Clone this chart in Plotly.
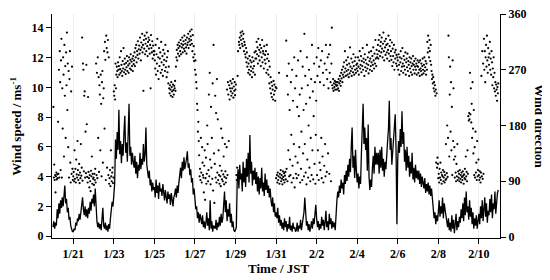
import pandas as pd
import plotly.graph_objects as go

# 風速 (m/s)，1時間値，1/20 00:00 から1日ずつ
speed_by_day = [
    [0.6, 1.0, 0.5, 0.9, 0.7, 1.8, 1.2, 2.2, 1.5, 2.4, 1.9, 2.6, 2.0, 2.8, 3.4, 2.2, 2.5, 1.6, 1.9, 1.1, 1.3, 0.7, 0.5, 0.3],
    [0.3, 0.5, 0.4, 0.9, 0.7, 1.2, 1.0, 1.5, 1.1, 1.7, 2.0, 2.6, 1.8, 1.4, 2.0, 1.3, 1.8, 1.2, 1.9, 1.5, 2.3, 1.7, 2.5, 2.2],
    [2.8, 2.0, 3.2, 1.6, 1.0, 0.6, 0.9, 0.5, 0.8, 0.4, 1.0, 1.9, 0.7, 0.5, 0.9, 0.4, 0.7, 0.3, 0.8, 0.5, 1.2, 1.8, 2.3, 2.0],
    [2.6, 3.5, 6.5, 5.2, 7.0, 5.8, 8.5, 5.5, 6.4, 4.9, 6.2, 5.4, 7.0, 8.1, 5.6, 6.3, 5.0, 6.8, 8.9, 5.4, 6.0, 4.8, 5.6, 5.0],
    [4.6, 5.4, 4.2, 5.0, 3.9, 4.8, 4.4, 5.6, 4.5, 5.2, 4.8, 6.2, 5.0, 5.5, 7.3, 4.8, 4.2, 3.9, 4.4, 3.4, 3.8, 3.0, 3.6, 3.1],
    [3.3, 2.6, 3.8, 2.9, 3.4, 2.5, 3.6, 3.0, 3.2, 2.7, 3.5, 2.8, 2.4, 3.1, 2.6, 2.2, 3.0, 2.5, 2.8, 2.1, 2.9, 2.4, 2.0, 2.6],
    [2.8, 3.2, 2.6, 3.4, 2.9, 3.6, 4.0, 4.6, 3.9, 5.0, 4.4, 5.3, 4.5, 4.8, 5.2, 5.7, 4.6, 4.9, 4.1, 4.5, 3.6, 3.9, 2.8, 3.2],
    [2.4, 1.8, 2.0, 1.2, 1.6, 0.9, 1.5, 1.1, 0.8, 1.4, 0.6, 1.0, 0.5, 0.9, 1.6, 0.7, 1.2, 0.4, 2.4, 0.5, 1.0, 0.3, 0.7, 0.6],
    [0.5, 1.1, 0.4, 0.9, 0.6, 1.3, 0.7, 1.5, 0.9, 1.2, 2.0, 3.0, 1.6, 2.4, 1.0, 1.8, 1.3, 2.2, 0.9, 1.5, 0.6, 1.0, 0.4, 0.3],
    [0.4, 0.6, 3.6, 4.5, 3.2, 4.8, 3.8, 4.2, 3.0, 5.0, 3.6, 4.6, 3.3, 5.2, 4.0, 5.6, 3.6, 6.8, 4.2, 5.0, 3.4, 4.4, 3.8, 4.6],
    [3.5, 4.3, 3.0, 4.0, 2.8, 3.9, 3.2, 4.6, 3.0, 3.6, 2.7, 4.2, 3.1, 3.8, 2.9, 3.4, 2.6, 3.2, 2.4, 2.0, 2.6, 1.6, 2.2, 1.3],
    [1.6, 1.2, 1.9, 0.9, 1.4, 0.7, 1.1, 0.5, 0.9, 0.4, 1.2, 0.6, 1.0, 0.3, 0.8, 0.5, 1.3, 0.4, 0.7, 0.3, 0.9, 0.5, 0.6, 0.3],
    [0.4, 0.9, 0.3, 0.7, 0.5, 1.1, 0.4, 0.8, 1.2, 1.6, 2.6, 1.3, 0.7, 1.0, 0.4, 0.8, 0.3, 0.6, 1.0, 0.5, 1.2, 0.8, 1.6, 2.1],
    [1.2, 0.6, 1.0, 0.4, 0.8, 0.5, 1.3, 0.7, 1.1, 0.4, 0.9, 1.7, 0.6, 1.0, 0.4, 1.5, 0.8, 1.2, 0.5, 1.0, 0.6, 0.9, 0.4, 1.8],
    [2.4, 3.0, 2.6, 3.4, 2.9, 3.8, 3.2, 3.6, 2.8, 4.1, 3.5, 4.4, 3.7, 4.8, 4.0, 5.2, 4.3, 6.0, 7.3, 4.6, 5.4, 3.9, 5.8, 4.4],
    [3.6, 4.2, 3.2, 4.0, 3.5, 5.6, 7.0, 8.9, 6.2, 7.3, 5.8, 6.6, 4.4, 7.5, 4.0, 3.1, 3.8, 3.3, 4.6, 5.4, 4.2, 6.0, 4.8, 5.6],
    [4.8, 5.6, 4.2, 5.8, 4.6, 6.0, 4.4, 5.2, 4.0, 5.0, 4.5, 5.8, 6.4, 7.2, 9.1, 5.8, 6.6, 4.8, 5.6, 6.2, 7.5, 8.2, 5.8, 0.8],
    [5.2, 6.4, 5.6, 7.2, 6.0, 8.4, 6.2, 7.0, 5.0, 5.8, 4.4, 6.0, 4.6, 5.4, 4.0, 5.0, 4.2, 5.6, 3.8, 4.6, 3.6, 4.8, 3.9, 4.4],
    [3.8, 4.4, 3.5, 4.2, 3.3, 4.0, 3.6, 3.2, 3.9, 2.9, 3.5, 3.0, 3.6, 2.8, 3.4, 2.7, 3.2, 2.6, 1.8, 1.2, 1.6, 0.8, 1.4, 1.0],
    [1.6, 2.4, 1.3, 2.0, 1.5, 2.6, 1.2, 2.2, 1.8, 1.4, 1.0, 0.6, 1.2, 0.4, 0.9, 0.3, 1.4, 0.5, 1.1, 0.2, 0.8, 1.5, 0.4, 1.0],
    [0.6, 1.3, 0.9, 1.8, 1.2, 2.2, 1.0, 2.6, 1.4, 3.0, 1.6, 2.0, 1.1, 2.4, 1.3, 1.9, 0.8, 1.6, 0.5, 1.2, 0.7, 1.4, 0.5, 1.0],
    [1.5, 0.8, 2.0, 1.2, 2.4, 1.0, 1.8, 2.6, 1.3, 2.2, 0.9, 1.7, 1.4, 2.5, 1.6, 2.8, 1.2, 2.2, 1.8, 3.0, 1.5, 2.6, 2.9, 3.1],
]

# 風向 (deg)，30分値
direction_by_day = [
    [None, 210, 96, 117, 92, 100, 72, 98, 104, 93, 101, 95, 186, 102, 270, 96, 300, 250, 108, 285, 320, 96, 240, 175,
     290, 262, 130, 310, 228, 276, 160, 298, 245, 330, 205, 280, 145, 268, 96, 255, 300, 120, 88, 235, 102, 275, 110, 92],
    [98, 105, 90, 140, 94, 110, 88, 125, 101, 96, 155, 108, 92, 100, 118, 87, 104, 95, 150, 99, 112, 322, 91, 280,
     270, 106, 228, 235, 96, 170, 103, 278, 182, 97, 88, 226, 105, 95, 80, 100, 90, 74, 107, 98, 130, 86, 102, 94],
    [96, 84, 102, 92, 110, 88, 280, 100, 265, 95, 290, 160, 258, 105, 245, 230, 140, 262, 215, 98, 250, 268, 120, 224,
     240, 300, 175, 315, 286, 92, 325, 305, 112, 298, 318, 100, 290, 86, 95, 108, 82, 140, 98, 90, 104, 112, 87, 96],
    [235, 228, 245, 222, 280, 240, 262, 275, 268, 258, 282, 270, 276, 262, 290, 271, 265, 300, 278, 268, 260, 284, 272, 305,
     266, 279, 288, 270, 263, 281, 274, 292, 268, 284, 277, 265, 290, 280, 272, 286, 295, 270, 283, 276, 288, 268, 292, 279],
    [285, 298, 276, 305, 290, 310, 282, 300, 294, 316, 288, 303, 309, 296, 322, 302, 285, 314, 306, 328, 298, 310, 236, 318,
     304, 325, 295, 312, 320, 300, 330, 308, 292, 315, 322, 304, 318, 296, 310, 240, 326, 305, 298, 316, 288, 309, 300, 294],
    [300, 285, 272, 310, 262, 295, 280, 320, 268, 290, 255, 305, 276, 288, 298, 265, 315, 282, 270, 292, 260, 302, 278, 286,
     296, 268, 310, 274, 284, 258, 290, 266, 300, 248, 275, 240, 232, 245, 238, 228, 250, 242, 235, 226, 246, 237, 230, 244],
    [240, 252, 236, 275, 290, 302, 285, 310, 296, 305, 314, 292, 308, 300, 318, 295, 312, 306, 322, 298, 310, 316, 304, 325,
     300, 312, 318, 306, 296, 322, 310, 314, 328, 305, 320, 316, 332, 310, 324, 318, 335, 312, 300, 326, 290, 308, 284, 295],
    [270, 285, 262, 250, 240, 215, 205, 170, 186, 155, 132, 98, 110, 92, 160, 104, 88, 145, 120, 100, 96, 72, 115, 140,
     60, 95, 128, 86, 102, 180, 150, 90, 108, 230, 98, 265, 125, 85, 210, 112, 160, 94, 248, 75, 310, 135, 55, 118],
    [228, 96, 200, 88, 255, 104, 190, 92, 140, 100, 86, 115, 98, 82, 175, 107, 93, 160, 90, 101, 130, 85, 97, 150,
     106, 88, 95, 145, 238, 100, 250, 230, 155, 245, 222, 240, 252, 235, 228, 248, 240, 232, 255, 225, 243, 236, 250, 229],
    [238, 246, 100, 92, 112, 260, 300, 96, 315, 310, 322, 305, 330, 318, 325, 312, 332, 308, 320, 328, 300, 315, 310, 295,
     290, 305, 282, 298, 275, 288, 265, 280, 270, 292, 262, 285, 275, 268, 282, 258, 290, 272, 266, 284, 276, 298, 262, 288],
    [300, 288, 315, 295, 306, 280, 320, 292, 302, 285, 310, 298, 276, 305, 290, 318, 282, 300, 296, 272, 308, 286, 294, 280,
     300, 265, 310, 288, 270, 295, 262, 284, 248, 275, 240, 258, 232, 250, 226, 244, 238, 222, 252, 230, 246, 236, 220, 242],
    [95, 240, 100, 88, 104, 92, 98, 265, 86, 102, 96, 108, 90, 100, 94, 85, 106, 97, 92, 103, 88, 99, 105, 93,
     317, 110, 260, 90, 230, 140, 280, 98, 205, 125, 100, 250, 165, 88, 270, 115, 220, 95, 150, 290, 80, 240, 130, 102],
    [260, 95, 210, 120, 285, 100, 195, 145, 230, 88, 300, 110, 170, 240, 92, 275, 135, 205, 98, 328, 150, 260, 104, 215,
     85, 290, 125, 245, 96, 180, 270, 112, 225, 90, 160, 255, 100, 310, 140, 235, 93, 195, 280, 118, 250, 86, 165, 220],
    [290, 100, 260, 140, 305, 92, 275, 120, 250, 108, 285, 160, 95, 300, 130, 265, 88, 245, 115, 280, 150, 98, 310, 270,
     105, 255, 290, 135, 240, 295, 102, 265, 310, 250, 90, 280, 338, 245, 240, 255, 236, 248, 242, 252, 238, 246, 250, 244],
    [238, 245, 250, 240, 255, 236, 248, 260, 252, 244, 265, 256, 270, 250, 262, 275, 258, 282, 266, 300, 272, 260, 285, 268,
     278, 262, 290, 270, 258, 280, 264, 306, 275, 268, 288, 260, 272, 282, 266, 295, 276, 262, 284, 270, 290, 265, 278, 272],
    [280, 268, 290, 275, 262, 285, 300, 272, 278, 292, 266, 284, 276, 305, 270, 288, 282, 260, 295, 274, 286, 268, 280, 310,
     272, 290, 278, 264, 298, 284, 270, 288, 276, 300, 282, 268, 292, 278, 306, 285, 272, 296, 280, 318, 288, 276, 302, 290],
    [295, 310, 288, 318, 300, 326, 292, 308, 315, 298, 322, 304, 290, 312, 330, 300, 285, 316, 306, 294, 320, 310, 298, 288,
     312, 302, 325, 296, 284, 308, 318, 292, 300, 286, 314, 276, 304, 292, 282, 310, 270, 298, 288, 302, 280, 294, 276, 290],
    [285, 270, 295, 278, 262, 290, 282, 300, 268, 288, 275, 305, 280, 265, 292, 276, 286, 270, 298, 262, 282, 288, 274, 296,
     268, 284, 278, 260, 290, 272, 282, 266, 288, 276, 262, 280, 292, 270, 278, 284, 264, 275, 288, 270, 280, 262, 276, 285],
    [275, 265, 282, 270, 260, 285, 272, 268, 280, 262, 276, 288, 270, 264, 278, 290, 268, 274, 284, 262, 280, 270, 315, 298,
     325, 305, 290, 318, 300, 284, 310, 278, 268, 255, 262, 248, 258, 240, 250, 235, 245, 228, 238, 120, 232, 112, 128, 118],
    [95, 102, 88, 110, 96, 120, 92, 104, 86, 100, 98, 108, 90, 96, 105, 88, 100, 92, 150, 94, 103, 180, 97, 160,
     325, 290, 130, 230, 275, 170, 250, 140, 210, 100, 285, 155, 240, 125, 145, 96, 130, 104, 90, 118, 98, 150, 92, 106],
    [96, 102, 90, 108, 94, 100, 88, 104, 97, 92, 106, 99, 86, 101, 95, 110, 93, 130, 98, 105, 90, 140, 102, 195,
     188, 200, 190, 265, 198, 240, 185, 215, 160, 250, 175, 135, 205, 100, 145, 96, 170, 104, 120, 92, 155, 98, 108, 125],
    [100, 92, 106, 96, 88, 104, 260, 98, 300, 94, 280, 102, 320, 270, 300, 250, 290, 310, 275, 325, 285, 265, 305, 290,
     278, 296, 315, 270, 288, 262, 300, 282, 245, 272, 258, 290, 240, 265, 235, 250, 228, 246, 238, 220, 242, 232, 248, None],
]

tick_dates = ["2019-01-21", "2019-01-23", "2019-01-25", "2019-01-27", "2019-01-29", "2019-01-31",
              "2019-02-02", "2019-02-04", "2019-02-06", "2019-02-08", "2019-02-10"]
tick_labels = ["1/21", "1/23", "1/25", "1/27", "1/29", "1/31", "2/2", "2/4", "2/6", "2/8", "2/10"]

START = pd.Timestamp("2019-01-20")


def flatten(by_day):
    """各日のリストを時刻付きの系列に展開"""
    xs, ys = [], []
    for d, vals in enumerate(by_day):
        step = pd.Timedelta(days=1) / len(vals)
        for i, v in enumerate(vals):
            xs.append(START + pd.Timedelta(days=d) + step * i)
            ys.append(v)
    return xs, ys


sx, sy = flatten(speed_by_day)
dx, dy = flatten(direction_by_day)

FONT = "Liberation Serif"
tickfont = dict(family=FONT, size=12, color="black", weight="bold")

fig = go.Figure()
fig.add_trace(go.Scatter(
    x=dx, y=dy, yaxis="y2", mode="markers",
    marker=dict(color="black", size=2.2),
    name="Wind direction",
))
fig.add_trace(go.Scatter(
    x=sx, y=sy, mode="lines",
    line=dict(color="black", width=1.3),
    name="Wind speed",
))

# ページの body 余白(8px)分だけ図を小さくしておく
fig.update_layout(
    width=542, height=273,
    margin=dict(l=44, r=50, t=6, b=43),
    paper_bgcolor="white", plot_bgcolor="white",
    showlegend=False,
    xaxis=dict(
        range=["2019-01-19 22:50", "2019-02-11 01:00"],
        tickvals=tick_dates, ticktext=tick_labels,
        ticks="outside", ticklen=5, tickcolor="black",
        showline=True, linecolor="black", linewidth=1,
        showgrid=True, gridcolor="#ececec", gridwidth=1,
        zeroline=False, tickfont=tickfont, automargin=False,
    ),
    yaxis=dict(
        range=[-0.13, 14.94],
        tickvals=[0, 2, 4, 6, 8, 10, 12, 14],
        ticks="outside", ticklen=5, tickcolor="black",
        showline=True, linecolor="black", linewidth=1,
        showgrid=False, zeroline=False, tickfont=tickfont, automargin=False,
    ),
    yaxis2=dict(
        range=[-1.6, 360], overlaying="y", side="right",
        tickvals=[0, 90, 180, 270, 360],
        ticks="outside", ticklen=5, tickcolor="black",
        showline=True, linecolor="black", linewidth=1,
        showgrid=False, zeroline=False, tickfont=tickfont, automargin=False,
        ticklabeloverflow="allow",
    ),
)

title_font = dict(family=FONT, size=13, color="black", weight="bold")
fig.add_annotation(text="Wind speed / ms<sup>-1</sup>", xref="paper", yref="paper",
                   x=-0.081, y=0.5, xanchor="center", yanchor="middle",
                   textangle=-90, showarrow=False, font=title_font)
fig.add_annotation(text="Wind direction", xref="paper", yref="paper",
                   x=1.089, y=0.5, xanchor="center", yanchor="middle",
                   textangle=90, showarrow=False, font=title_font)
fig.add_annotation(text="Time / JST", xref="paper", yref="paper",
                   x=0.505, y=-0.136, xanchor="center", yanchor="middle",
                   showarrow=False, font=title_font)

fig.write_html("out.html")
